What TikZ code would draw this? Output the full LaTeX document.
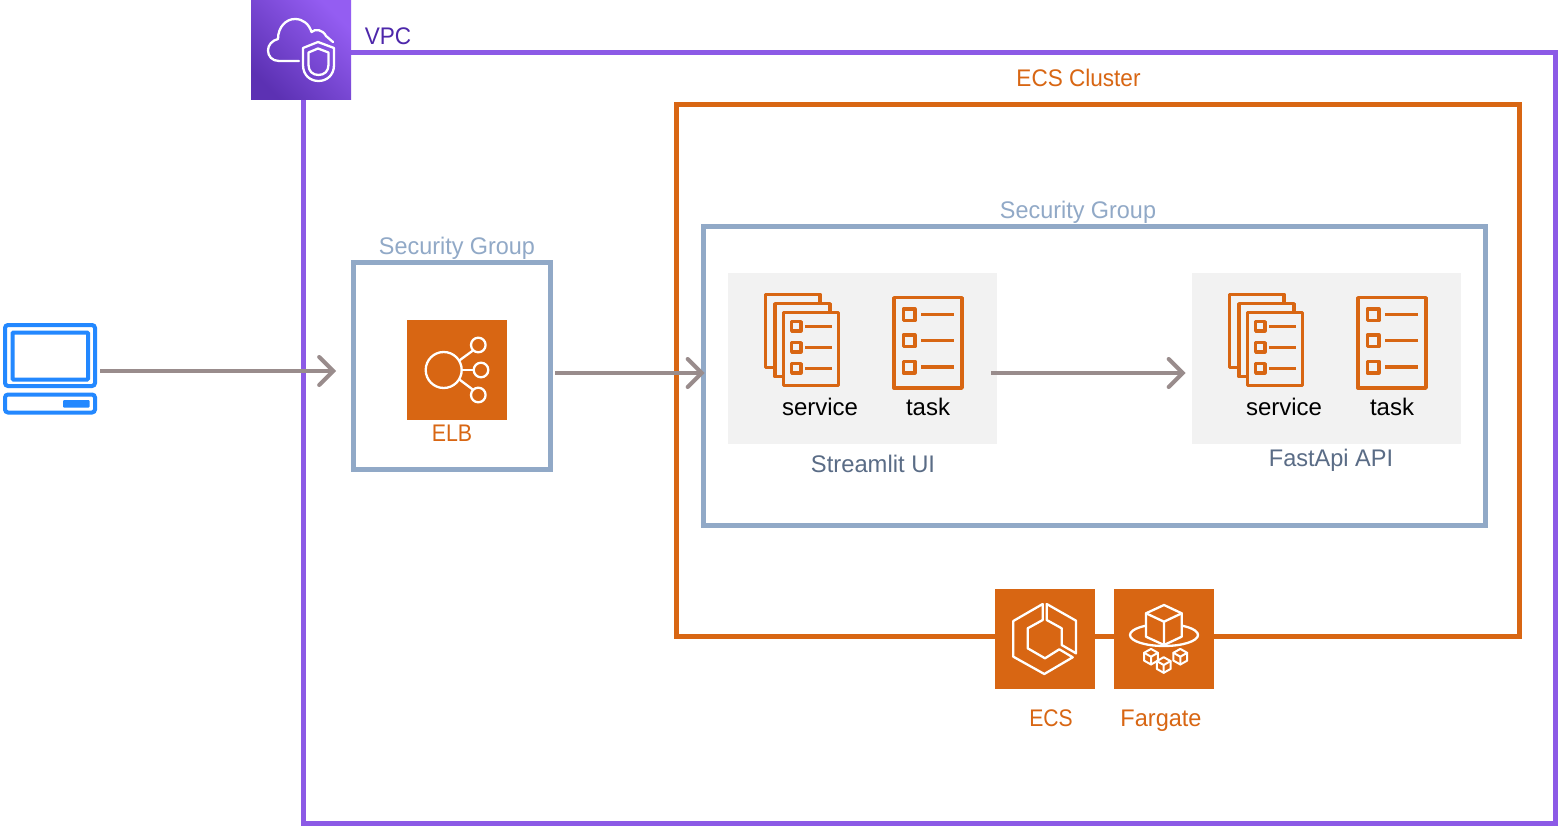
\documentclass[tikz,border=0pt]{standalone}
\usepackage{fontspec}
\usepackage{graphicx}
\setmainfont{Liberation Sans}
\usetikzlibrary{arrows.meta,calc}
\definecolor{vpcline}{HTML}{8C5AE6}
\definecolor{vpctext}{HTML}{4D27AA}
\definecolor{vpcdark}{HTML}{5C31B3}
\definecolor{vpclight}{HTML}{945DF2}
\definecolor{awsorange}{HTML}{D86613}
\definecolor{sgblue}{HTML}{91A9C7}
\definecolor{conncol}{HTML}{998C8C}
\definecolor{graybox}{HTML}{F2F2F2}
\definecolor{slate}{HTML}{5A6C86}
\definecolor{pcblue}{HTML}{2388FF}
\tikzset{
  frame/.style={draw=#1,line width=5pt,fill=none,inner sep=0pt,outer sep=0pt,rectangle},
  panel/.style={fill=graybox,draw=none,inner sep=0pt,outer sep=0pt,minimum width=269pt,minimum height=171pt},
  tile/.style={fill=awsorange,draw=none,inner sep=0pt,outer sep=0pt,minimum width=100pt,minimum height=100pt},
  conn/.style={draw=conncol,line width=4pt,-{Straight Barb[length=14pt,width=28pt,line cap=round,line width=4pt]}},
  lab/.style={inner sep=0pt,outer sep=0pt,font=\fontsize{24}{28}\selectfont},
  wline/.style={draw=white,line width=2.3pt,line join=round,line cap=round},
  oline/.style={draw=awsorange,line width=3.4pt,line join=round},
  pcline/.style={draw=pcblue,line width=4pt,rounded corners=3pt},
  hidden/.style={inner sep=0pt,outer sep=0pt,draw=none}
}
\newcommand{\squeezed}[2]{\scalebox{#1}[1]{#2}}
\newcommand{\listrows}[5]{%
  \foreach \yy in {#5}{
    \draw[oline] (#1-#2,\yy-#2) rectangle (#1+#2,\yy+#2);
    \draw[oline] (#3,\yy) -- (#4,\yy);
  }}
\newcommand{\serviceicon}[1]{%
  \begin{scope}[shift={(#1,0)}]
    \draw[oline] (820,302) -- (820,294.3) -- (765.3,294.3) -- (765.3,367.7) -- (774,367.7);
    \draw[oline] (830,311) -- (830,303.7) -- (775,303.7) -- (775,376.7) -- (783,376.7);
    \draw[oline] (783.7,312.3) rectangle (838.5,385.7);
    \listrows{796.3}{4.6}{805.3}{832.3}{326.3,347.3,368.3}
  \end{scope}}
\newcommand{\taskicon}[1]{%
  \begin{scope}[shift={(#1,0)}]
    \draw[oline] (894,297.7) rectangle (962,388);
    \listrows{909}{5.8}{921}{954.3}{314.7,340.7,367}
  \end{scope}}
\newcommand{\minicube}[2]{%
  \begin{scope}[shift={(#1,#2)}]
    \draw[wline,line width=2pt] (0,-7.8) -- (6.9,-3.9) -- (6.9,3.9) -- (0,7.8) -- (-6.9,3.9) -- (-6.9,-3.9) -- cycle;
    \draw[wline,line width=2pt] (-6.9,-3.9) -- (0,0) -- (6.9,-3.9) (0,0) -- (0,7.8);
  \end{scope}}
\begin{document}
\begin{tikzpicture}[x=1pt,y=-1pt]
\useasboundingbox (0,0) rectangle (1558,826);
\fill[white] (0,0) rectangle (1558,826);

% helper rows for the connectors
\coordinate (rowa) at (0,371);
\coordinate (rowb) at (0,373);

% VPC frame
\node[frame=vpcline,minimum width=1252pt,minimum height=771pt] (vpc) at (929.5,438) {};

% VPC tile
\path[shading=axis,top color=vpcdark,bottom color=vpclight,shading angle=135]
  (251,0) rectangle (351,100);
\node[hidden,minimum width=100pt,minimum height=100pt] (vpctile) at (301,50) {};
\draw[wline] (299,61) -- (279,61) .. controls (272,61) and (268,56) .. (268,50.5)
  .. controls (268,45) and (272,40.5) .. (278,39)
  .. controls (278,27) and (286,19) .. (295,19)
  .. controls (303,19) and (309,24) .. (311.5,32)
  .. controls (315,28.5) and (323,29.5) .. (326,36)
  -- (333,42);
\draw[wline] (318,42) -- (303,48) -- (303,65) .. controls (303,75) and (310,81) .. (318.5,81)
  .. controls (327,81) and (334,75) .. (334,65) -- (334,48) -- cycle;
\draw[wline] (318,48.5) -- (308.5,52.5) -- (308.5,65) .. controls (308.5,71) and (312.5,75) .. (318.5,75)
  .. controls (324.5,75) and (328.5,71) .. (328.5,65) -- (328.5,52.5) -- cycle;
\node[lab,text=vpctext] (vpclabel) at (388,36) {\squeezed{0.94}{VPC}};

% ECS cluster
\node[frame=awsorange,minimum width=843pt,minimum height=532pt] (cluster) at (1098,370.5) {};
\node[lab,text=awsorange] (clusterlabel) at (1078.5,78) {\squeezed{0.94}{ECS Cluster}};

% Security groups
\node[frame=sgblue,minimum width=197pt,minimum height=207pt] (sga) at (452,366) {};
\node[lab,text=sgblue] (sgalabel) at (457,248) {\squeezed{0.975}{Security Group}};
\node[frame=sgblue,minimum width=782pt,minimum height=299pt] (sgb) at (1094.5,376) {};
\node[lab,text=sgblue] (sgblabel) at (1078,212) {\squeezed{0.975}{Security Group}};

% Laptop
\node[hidden,minimum width=94pt,minimum height=91pt] (pc) at (50,368.5) {};
\draw[pcline] (5,325) rectangle (95,386);
\draw[pcline,rounded corners=1pt] (12.5,332.5) rectangle (88,379.5);
\draw[pcline] (5,394.5) rectangle (95,412.5);
\fill[pcblue,rounded corners=1pt] (63,400) rectangle (89.5,407.5);

% ELB
\node[tile] (elb) at (457,370) {};
\draw[wline] (443.7,370) circle (18);
\draw[wline] (478.3,345) circle (7.3);
\draw[wline] (481,370) circle (7.3);
\draw[wline] (478.3,395) circle (7.3);
\draw[wline] (460,360) -- (472.7,350.7);
\draw[wline] (462.7,370) -- (473.7,370);
\draw[wline] (460,380) -- (472.7,389.5);
\node[lab,text=awsorange] (elblabel) at (452,433) {\squeezed{0.89}{ELB}};

% Panels
\node[panel] (streamlit) at (862.5,358.5) {};
\node[panel] (fastapi) at (1326.5,358.5) {};
\serviceicon{0}
\taskicon{0}
\serviceicon{464}
\taskicon{464}
\node[lab,text=black] (svca) at (820,407) {service};
\node[lab,text=black] (taska) at (928,407) {task};
\node[lab,text=black] (svcb) at (1284,407) {service};
\node[lab,text=black] (taskb) at (1392,407) {task};
\node[lab,text=slate] (streamlitlabel) at (873,464) {\squeezed{0.99}{Streamlit UI}};
\node[lab,text=slate] (fastapilabel) at (1331,460) {\squeezed{0.98}{FastApi API}};

% ECS tile
\node[tile] (ecs) at (1045,639) {};
\draw[wline] (1042.7,604) -- (1013.3,621) -- (1013.3,656.7) -- (1044.3,674) -- (1072.7,657.3)
  -- (1059.3,649.3) -- (1045,658.3) -- (1027.7,648.3) -- (1027.7,628.3) -- (1042.7,620) -- cycle;
\draw[wline] (1046.7,604) -- (1076,620.7) -- (1076,653.3) -- (1061.7,645) -- (1061.7,628.3) -- (1046.7,620) -- cycle;
\node[lab,text=awsorange] (ecslabel) at (1051,718) {\squeezed{0.88}{ECS}};

% Fargate tile
\node[tile] (fargate) at (1164,639) {};
\draw[wline] (1164,635) ellipse (34 and 11);
\fill[awsorange] (1164,605) -- (1146,613.3) -- (1146,636.7) -- (1164,644.5) -- (1181.7,636.7) -- (1181.7,613.3) -- cycle;
\draw[wline] (1164,605) -- (1146,613.3) -- (1146,636.7) -- (1164,645) -- (1181.7,636.7) -- (1181.7,613.3) -- cycle;
\draw[wline] (1146,613.3) -- (1164,621.7) -- (1181.7,613.3) (1164,621.7) -- (1164,645);
\minicube{1151}{656.7}
\minicube{1163.7}{665}
\minicube{1180.3}{656.7}
\node[lab,text=awsorange] (fargatelabel) at (1161,720.5) {\squeezed{0.98}{Fargate}};

% Connectors
\draw[conn,shorten <=3pt,shorten >=17.5pt] (pc.east |- rowa) -- (sga.west |- rowa);
\draw[conn,shorten <=4.5pt,shorten >=-1pt] (sga.east |- rowb) -- (sgb.west |- rowb);
\draw[conn,shorten <=-6pt,shorten >=6.5pt] (streamlit.east |- rowb) -- (fastapi.west |- rowb);
\end{tikzpicture}
\end{document}
